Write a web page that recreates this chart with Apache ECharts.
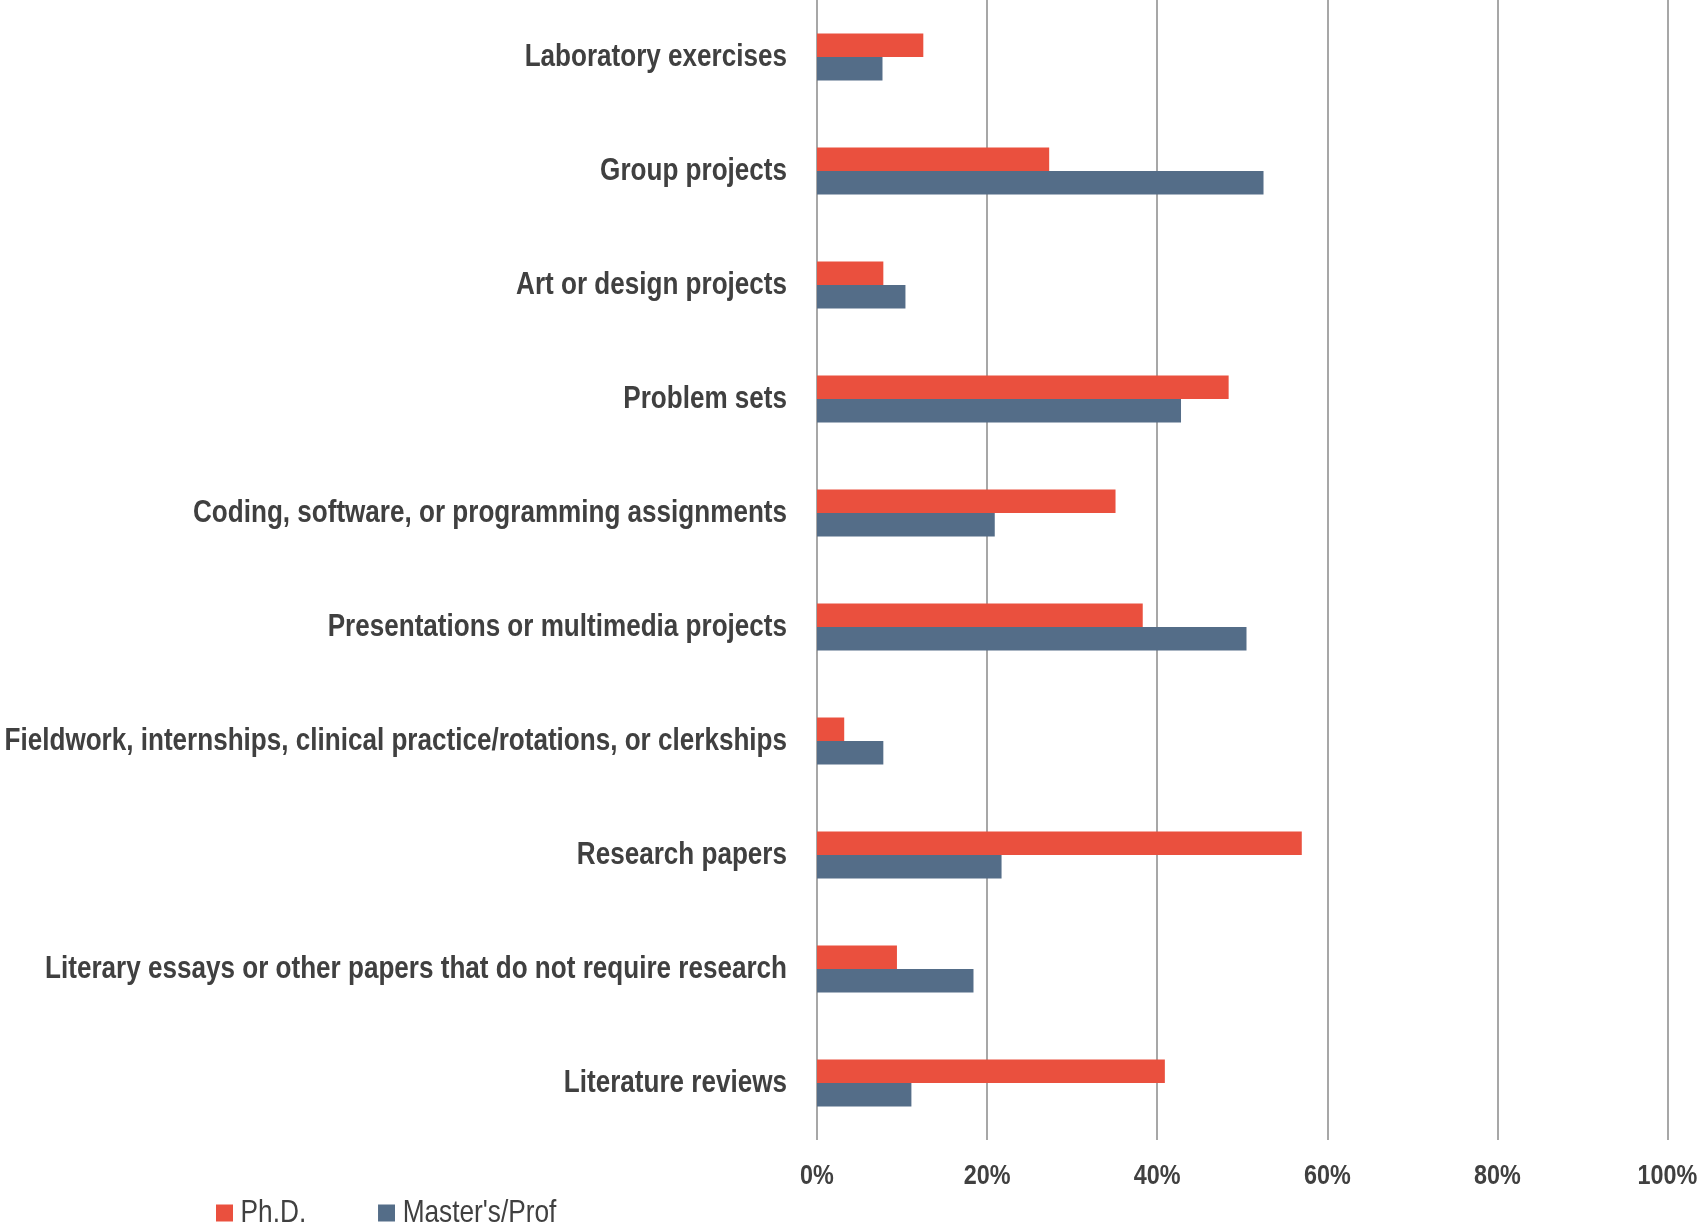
<!DOCTYPE html>
<html>
<head>
<meta charset="utf-8">
<script src="https://cdn.jsdelivr.net/npm/echarts@6/dist/echarts.min.js"></script>
<style>
html,body{margin:0;padding:0;background:#fff;}
#chart{width:1700px;height:1225px;}
</style>
</head>
<body>
<div id="chart"></div>
<script>
const categories = [
  "Laboratory exercises",
  "Group projects",
  "Art or design projects",
  "Problem sets",
  "Coding, software, or programming assignments",
  "Presentations or multimedia projects",
  "Fieldwork, internships, clinical practice/rotations, or clerkships",
  "Research papers",
  "Literary essays or other papers that do not require research",
  "Literature reviews"
];
const phdValues = [12.5, 27.3, 7.8, 48.4, 35.1, 38.3, 3.2, 57.0, 9.4, 40.9];
const mastersValues = [7.7, 52.5, 10.4, 42.8, 20.9, 50.5, 7.8, 21.7, 18.4, 11.1];
const seriesNames = ["Ph.D.", "Master's/Prof"];
const tickValues = [0, 20, 40, 60, 80, 100];

const FONT = '"Liberation Sans", Arial, sans-serif';
const NARROW = 0.82; // emulate Arial Narrow
const chart = echarts.init(document.getElementById('chart'), null, {renderer: 'canvas'});
chart.setOption({
  animation: false,
  backgroundColor: '#ffffff',
  color: ['#EA503E', '#546D88'],
  grid: {left: 817, right: 32.5, top: 0, bottom: 85, containLabel: false, outerBoundsMode: 'none'},
  legend: {
    left: 216, top: 1197, padding: 0,
    itemWidth: 17, itemHeight: 17, itemGap: 52,
    icon: 'rect',
    data: seriesNames,
    textStyle: {fontFamily: FONT, fontSize: 32, color: '#404040', padding: [0, 0, 0, 8]}
  },
  xAxis: {
    type: 'value', min: tickValues[0], max: tickValues[tickValues.length - 1], interval: 20,
    axisLine: {show: false}, axisTick: {show: false},
    splitLine: {show: true, lineStyle: {color: '#8a8a8a', width: 1.5}},
    axisLabel: {formatter: '{value}%', fontFamily: FONT, fontWeight: 'bold', fontSize: 28.5, color: '#404040', margin: 22}
  },
  yAxis: {
    type: 'category', data: categories, inverse: true,
    axisLine: {show: false}, axisTick: {show: false},
    axisLabel: {fontFamily: FONT, fontWeight: 'bold', fontSize: 31.8, color: '#404040', margin: 30, padding: [3, 0, 0, 0]}
  },
  series: [
    {name: seriesNames[0], type: 'bar', data: phdValues, barWidth: 23.5, barGap: '0%'},
    {name: seriesNames[1], type: 'bar', data: mastersValues, barWidth: 23.5, barGap: '0%'}
  ]
});
// Narrow the text horizontally around each label's own anchor point
chart.getZr().storage.getRoots().forEach(function (root) {
  const visit = function (el) {
    if (el.type === 'text') { el.attr('scaleX', NARROW); }
    if (el.isGroup) { el.eachChild(visit); }
  };
  visit(root);
});
chart.getZr().refresh();
</script>
</body>
</html>
